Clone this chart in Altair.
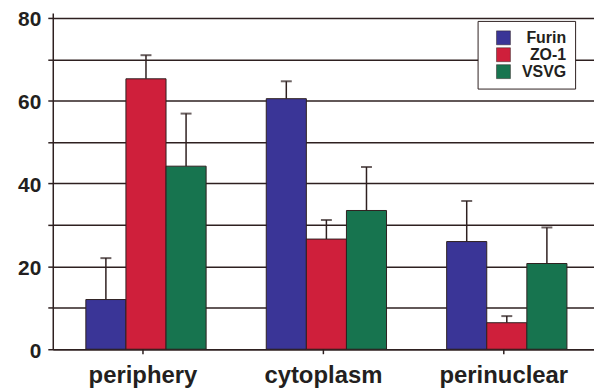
import altair as alt
import pandas as pd

categories = ["periphery", "cytoplasm", "perinuclear"]
series = ["Furin", "ZO-1", "VSVG"]
furin = [12.0, 60.5, 26.0]
zo1 = [65.3, 26.6, 6.4]
vsvg = [44.2, 33.5, 20.7]
furin_err = [10.0, 4.2, 9.8]
zo1_err = [5.7, 4.6, 1.6]
vsvg_err = [12.7, 10.5, 8.7]
y_ticks = [0, 10, 20, 30, 40, 50, 60, 70, 80]
colors = ["#3a3597", "#cf1f3b", "#17744f"]

rows = []
for s, vals, errs in [("Furin", furin, furin_err), ("ZO-1", zo1, zo1_err), ("VSVG", vsvg, vsvg_err)]:
    for c, v, e in zip(categories, vals, errs):
        rows.append({"category": c, "series": s, "value": v, "top": v + e})
df = pd.DataFrame(rows)

FONT = "Liberation Sans"
DARK = "#2e2020"
W, H = 544, 338

x_enc = alt.X("category:N", sort=categories, title=None,
              scale=alt.Scale(paddingInner=0, paddingOuter=0),
              axis=alt.Axis(labelFontSize=24, labelFontWeight="bold", labelFont=FONT,
                            labelColor="#231f20", ticks=False, domain=True,
                            domainColor=DARK, domainWidth=1.5, labelPadding=14,
                            labelAngle=0, labelAlign="center", labelBaseline="top",
                            bandPosition=0.5))
xo_enc = alt.XOffset("series:N", sort=series,
                     scale=alt.Scale(paddingOuter=0.75, paddingInner=0, align=0.55))
y_scale = alt.Scale(domain=[0, 81.2], nice=False)

bars = alt.Chart(df).mark_bar(stroke=DARK, strokeWidth=1).encode(
    x=x_enc,
    xOffset=xo_enc,
    y=alt.Y("value:Q", scale=y_scale, title=None,
            axis=alt.Axis(values=y_ticks, grid=True, gridColor=DARK, gridWidth=1.5,
                          tickColor=DARK, tickSize=5, tickWidth=1.5, domainColor=DARK,
                          domainWidth=1.5, labelFontSize=21, labelFontWeight="bold",
                          labelFont=FONT, labelColor="#231f20", labelPadding=7,
                          labelOffset=2,
                          labelExpr="datum.value % 20 == 0 ? datum.label : ''")),
    color=alt.Color("series:N", sort=series, scale=alt.Scale(domain=series, range=colors),
                    legend=alt.Legend(orient="none", legendX=427, legendY=8, title=None,
                                      strokeColor=DARK, fillColor="white", padding=9,
                                      symbolType="square", symbolSize=196,
                                      symbolStrokeColor=DARK, symbolStrokeWidth=0.5,
                                      symbolOffset=9,
                                      labelFontSize=16, labelFontWeight="bold",
                                      labelFont=FONT, labelColor="#231f20",
                                      labelAlign="right", labelOffset=55, rowPadding=1)),
)

err_rule = alt.Chart(df).mark_rule(color=DARK, strokeWidth=1.5).encode(
    x=alt.X("category:N", sort=categories),
    xOffset=xo_enc,
    y=alt.Y("value:Q", scale=y_scale),
    y2="top:Q",
)
err_cap = alt.Chart(df).mark_tick(color=DARK, thickness=2, size=11).encode(
    x=alt.X("category:N", sort=categories),
    xOffset=xo_enc,
    y=alt.Y("top:Q", scale=y_scale),
)
# small tick marks at the right edge of each category band on the x axis
xticks = alt.Chart(pd.DataFrame({"category": categories})).mark_rule(
    color=DARK, strokeWidth=1.5).encode(
    x=alt.X("category:N", sort=categories),
    xOffset=alt.value(W / 6),
    y=alt.value(H), y2=alt.value(H + 5),
)

chart = alt.layer(err_rule, bars, err_cap, xticks).properties(
    width=W, height=H,
    autosize=alt.AutoSizeParams(type="none"),
    padding={"left": 45, "top": 4, "right": 0, "bottom": 40},
).configure_view(stroke=None)

chart.save("out.html", embed_options={"renderer": "svg", "actions": False})
